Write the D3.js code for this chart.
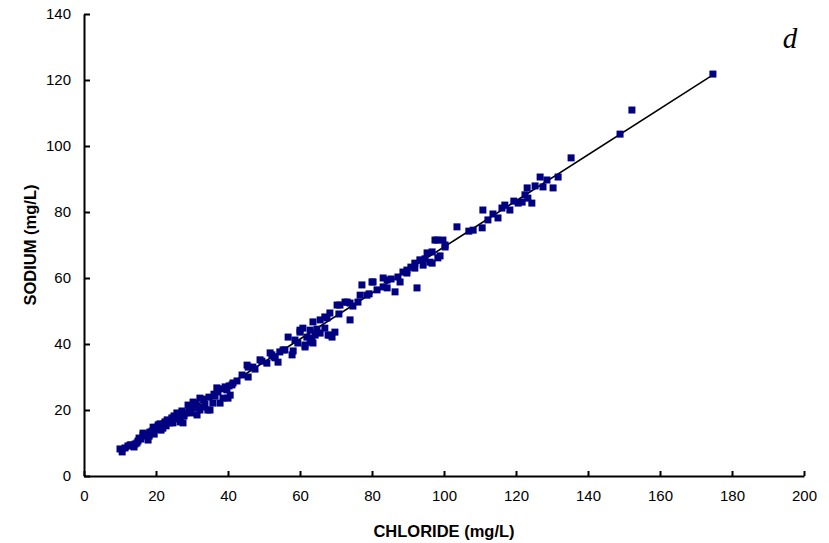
<!DOCTYPE html>
<html>
<head>
<meta charset="utf-8">
<script src="https://cdn.jsdelivr.net/npm/d3@7"></script>
<style>
  html, body { margin: 0; padding: 0; background: #fff; }
  svg { display: block; }
  text { font-family: "Liberation Sans", Arial, sans-serif; }
</style>
</head>
<body>
<svg id="chart" width="829" height="543"></svg>
<script>
// Chloride vs sodium samples (mg/L)
const chloride = [
  10.6, 10.0, 11.4, 12.2, 12.8, 14.2, 14.7, 15.3, 16.4, 16.4, 17.8, 18.3, 19.2, 19.7, 20.6, 21.1,
  21.9, 22.5, 23.1, 23.9, 24.4, 25.3, 25.8, 26.1, 26.7, 27.5, 28.1, 28.9, 29.4, 30.3, 30.8, 31.4,
  32.2, 32.2, 32.8, 33.6, 34.4, 35.0, 35.8, 36.4, 36.9, 37.8, 38.6, 39.2, 39.7, 40.0, 40.6, 41.1,
  41.4, 45.3, 45.6, 45.6, 46.9, 48.9, 50.8, 51.7, 52.2, 53.1, 53.9, 55.3, 55.8, 56.7, 57.8, 58.1,
  59.4, 60.0, 60.0, 60.8, 61.4, 61.4, 61.9, 62.8, 62.8, 63.3, 63.6, 63.6, 64.2, 65.6, 65.6, 66.9,
  66.9, 67.5, 67.8, 68.3, 68.3, 68.9, 69.7, 70.3, 71.1, 72.5, 73.1, 73.9, 73.9, 76.1, 76.7, 77.2,
  78.6, 80.0, 80.3, 83.1, 83.1, 84.2, 84.2, 86.4, 87.2, 87.8, 89.7, 89.7, 91.9, 91.9, 92.5, 93.3,
  94.2, 95.3, 96.1, 96.7, 96.7, 97.5, 98.1, 98.3, 98.9, 99.7, 100.3, 100.3, 103.6, 108.1, 110.6, 110.8,
  112.2, 115.0, 116.1, 116.9, 118.3, 120.6, 121.7, 122.5, 123.1, 123.3, 124.4, 126.7, 127.5, 128.6, 130.3, 131.7,
  135.3, 148.9, 152.2, 174.7,
  13.1, 13.9, 15.0, 15.8, 17.2, 18.1, 18.9, 19.5, 20.3, 21.4, 22.2, 22.8, 23.6, 24.7, 25.0, 26.4,
  27.2, 27.8, 29.2, 29.7, 30.6, 31.1, 33.3, 34.7, 36.1, 37.2, 38.1, 40.3, 42.5, 43.9, 47.5, 49.4,
  52.8, 54.4, 58.6, 64.7, 70.8, 74.7, 79.2, 81.4, 85.3, 88.6, 90.8, 94.7, 106.9, 113.6, 119.4, 125.3
];
const sodium = [
  7.3, 8.2, 8.5, 9.1, 9.4, 9.7, 10.0, 11.5, 12.4, 13.0, 10.9, 13.3, 14.8, 14.2, 15.5, 15.8,
  14.5, 16.4, 17.0, 16.1, 17.6, 17.3, 19.1, 18.5, 16.4, 16.1, 19.1, 21.5, 19.7, 22.4, 20.6, 18.5,
  23.6, 20.0, 20.9, 21.8, 20.0, 20.0, 22.1, 24.2, 26.7, 22.1, 23.6, 27.0, 26.1, 23.6, 24.5, 27.6,
  28.2, 33.6, 30.0, 33.0, 33.0, 35.2, 34.2, 37.3, 36.7, 35.8, 34.5, 38.2, 38.2, 42.1, 36.7, 37.9,
  40.3, 43.6, 44.2, 44.8, 39.7, 39.1, 42.1, 40.6, 44.2, 41.8, 40.3, 46.7, 42.7, 43.3, 47.3, 44.8,
  48.2, 47.9, 42.7, 42.7, 49.4, 42.1, 43.6, 51.8, 51.8, 52.7, 52.7, 47.3, 52.4, 52.7, 54.8, 57.9,
  54.8, 58.8, 58.8, 60.0, 57.3, 57.0, 59.4, 55.8, 60.3, 58.8, 61.5, 62.4, 63.0, 64.5, 57.0, 65.5,
  63.9, 67.6, 64.8, 64.5, 67.9, 71.5, 71.5, 66.1, 66.7, 71.5, 69.4, 70.0, 75.5, 74.5, 75.2, 80.6,
  77.6, 78.2, 81.2, 82.1, 80.6, 82.7, 83.0, 85.2, 87.3, 84.2, 82.7, 90.6, 87.6, 89.7, 87.3, 90.6,
  96.4, 103.6, 110.9, 121.8,
  9.4, 8.8, 10.6, 11.2, 12.7, 12.1, 13.6, 12.7, 14.8, 13.9, 15.8, 15.2, 16.7, 16.1, 18.2, 17.9,
  19.7, 18.2, 20.3, 19.1, 21.2, 22.1, 23.3, 23.9, 24.8, 25.5, 26.4, 27.3, 28.8, 30.6, 32.4, 34.8,
  36.1, 37.6, 41.2, 44.5, 49.1, 51.5, 55.2, 56.4, 59.7, 61.8, 63.3, 65.8, 74.2, 79.4, 83.3, 87.9
];

// Least-squares fit drawn through the samples
const fitSlope = 0.698;
const fitIntercept = -0.4;
const fitRange = [10.5, 174.7];

const xTicks = [0, 20, 40, 60, 80, 100, 120, 140, 160, 180, 200];
const yTicks = [0, 20, 40, 60, 80, 100, 120, 140];

const svg = d3.select("#chart");
const margin = { left: 84, right: 25, top: 14, bottom: 67 };
const W = 829, H = 543;

const x = d3.scaleLinear().domain([0, 200]).range([margin.left, W - margin.right]);
const y = d3.scaleLinear().domain([0, 140]).range([H - margin.bottom, margin.top]);

// Regression line
const fit = fitRange.map(v => [v, fitSlope * v + fitIntercept]);
svg.append("path")
  .datum(fit)
  .attr("fill", "none")
  .attr("stroke", "#000")
  .attr("stroke-width", 1.6)
  .attr("d", d3.line().x(d => x(d[0])).y(d => y(d[1])));

// Sample markers
const pts = chloride.map((c, i) => [c, sodium[i]]);
const s = 7;
svg.append("g")
  .selectAll("rect")
  .data(pts)
  .join("rect")
  .attr("x", d => x(d[0]) - s / 2)
  .attr("y", d => y(d[1]) - s / 2)
  .attr("width", s)
  .attr("height", s)
  .attr("fill", "#000080");

// Axes with inward ticks
const xAxis = svg.append("g")
  .attr("transform", `translate(0,${y(0)})`)
  .call(d3.axisBottom(x).tickValues(xTicks).tickSize(-5).tickSizeOuter(0).tickPadding(14));
const yAxis = svg.append("g")
  .attr("transform", `translate(${x(0)},0)`)
  .call(d3.axisLeft(y).tickValues(yTicks).tickSize(-6).tickSizeOuter(0).tickPadding(13));

[xAxis, yAxis].forEach(g => {
  g.select(".domain").attr("stroke", "#000").attr("stroke-width", 2);
  g.selectAll(".tick line").attr("stroke", "#000").attr("stroke-width", 2);
  g.selectAll(".tick text")
    .attr("fill", "#000")
    .style("font-family", "'Liberation Sans', Arial, sans-serif")
    .style("font-size", "15px");
});

// Axis titles
svg.append("text")
  .attr("x", (x(0) + x(200)) / 2)
  .attr("y", 537)
  .attr("text-anchor", "middle")
  .style("font-size", "16.5px")
  .style("font-weight", "bold")
  .text("CHLORIDE (mg/L)");

svg.append("text")
  .attr("transform", `translate(36,${(y(0) + y(140)) / 2}) rotate(-90)`)
  .attr("text-anchor", "middle")
  .style("font-size", "16.5px")
  .style("font-weight", "bold")
  .text("SODIUM (mg/L)");

// Panel letter
svg.append("text")
  .attr("x", 790)
  .attr("y", 48)
  .attr("text-anchor", "middle")
  .style("font-family", "'Liberation Serif', 'Times New Roman', serif")
  .style("font-style", "italic")
  .style("font-size", "29px")
  .text("d");
</script>
</body>
</html>
